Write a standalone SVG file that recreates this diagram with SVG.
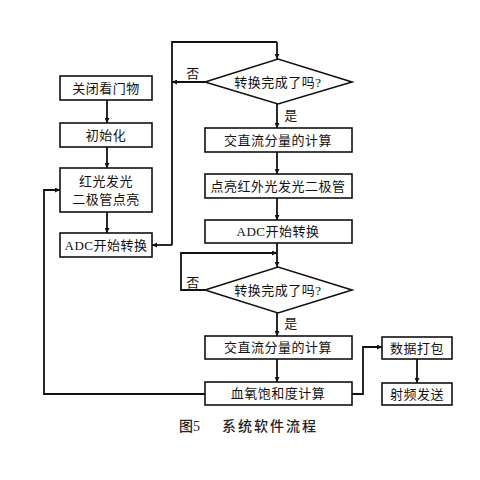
<svg xmlns="http://www.w3.org/2000/svg" width="480" height="480" viewBox="0 0 480 480">
<defs>
<marker id="ah" viewBox="0 0 10 10" refX="10" refY="5" markerWidth="5" markerHeight="5" orient="auto" markerUnits="userSpaceOnUse">
<path d="M0,0 L10,5 L0,10 z" fill="#111"/>
</marker>
<style>
.b{fill:#fff;stroke:#111;stroke-width:1.6}
.t{font-family:"Liberation Serif","Noto Sans CJK SC",serif;font-size:13px;fill:#111;text-anchor:middle;dominant-baseline:central;letter-spacing:0.5px}
.l{fill:none;stroke:#111;stroke-width:1.8}
.a{fill:none;stroke:#111;stroke-width:1.8;marker-end:url(#ah)}
.cap{font-family:"Liberation Serif","Noto Sans CJK SC",serif;font-size:14px;fill:#222;font-weight:500}
</style>
</defs>
<rect width="480" height="480" fill="#fff"/>
<g id="connectors">
<path class="a" d="M107,100 V123"/>
<path class="a" d="M107,147 V168"/>
<path class="a" d="M107,212 V233"/>
<path class="a" d="M172,245 H152"/>
<path class="l" d="M172,245 V42 H277"/>
<path class="a" d="M277,42 V59"/>
<path class="a" d="M205,82 H172"/>
<path class="a" d="M277,104 V128"/>
<path class="a" d="M277,152 V174"/>
<path class="a" d="M277,198 V220"/>
<path class="a" d="M277,243 V267"/>
<path class="a" d="M205,290 H181 V253 H277"/>
<path class="a" d="M277,313 V336"/>
<path class="a" d="M277,359 V382"/>
<path class="a" d="M205,394 H44 V190 H60"/>
<path class="a" d="M352,394 H363 V347 H382"/>
<path class="a" d="M417,359 V383"/>
</g>
<g id="n1"><rect class="b" x="60" y="76" width="92" height="24"/><text class="t" x="106" y="88">关闭看门物</text></g>
<g id="n2"><rect class="b" x="60" y="123" width="92" height="24"/><text class="t" x="106" y="135">初始化</text></g>
<g id="n3"><rect class="b" x="60" y="168" width="92" height="44"/><text class="t" x="106" y="181">红光发光</text><text class="t" x="106" y="199">二极管点亮</text></g>
<g id="n4"><rect class="b" x="60" y="233" width="92" height="24"/><text class="t" x="106" y="245">ADC开始转换</text></g>
<g id="d1"><polygon class="b" points="205,82 278,59 352,82 278,104"/><text class="t" x="278" y="82">转换完成了吗?</text></g>
<text class="t" x="193" y="73">否</text>
<text class="t" x="291" y="115">是</text>
<g id="n5"><rect class="b" x="205" y="128" width="147" height="24"/><text class="t" x="278" y="140">交直流分量的计算</text></g>
<g id="n6"><rect class="b" x="205" y="174" width="147" height="24"/><text class="t" x="278" y="186">点亮红外光发光二极管</text></g>
<g id="n7"><rect class="b" x="205" y="220" width="147" height="23"/><text class="t" x="278" y="231.500">ADC开始转换</text></g>
<g id="d2"><polygon class="b" points="205,290 278,267 352,290 278,313"/><text class="t" x="278" y="290">转换完成了吗?</text></g>
<text class="t" x="193" y="282">否</text>
<text class="t" x="291" y="323">是</text>
<g id="n8"><rect class="b" x="205" y="336" width="147" height="23"/><text class="t" x="278" y="347.500">交直流分量的计算</text></g>
<g id="n9"><rect class="b" x="205" y="382" width="147" height="23"/><text class="t" x="278" y="393.500">血氧饱和度计算</text></g>
<g id="n10"><rect class="b" x="382" y="337" width="70" height="22"/><text class="t" x="417" y="348">数据打包</text></g>
<g id="n11"><rect class="b" x="382" y="383" width="70" height="22"/><text class="t" x="417" y="394">射频发送</text></g>
<text class="cap" x="179" y="431">图5</text>
<text class="cap" x="222" y="431" letter-spacing="2">系统软件流程</text>
</svg>
